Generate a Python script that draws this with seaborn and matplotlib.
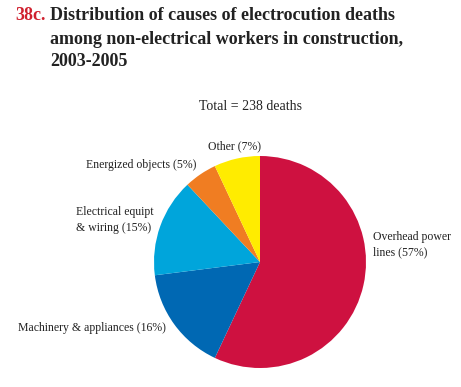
import matplotlib
matplotlib.use("Agg")
import matplotlib.pyplot as plt
import seaborn as sns

categories = ["Overhead power lines", "Machinery & appliances", "Electrical equipt & wiring",
              "Energized objects", "Other"]
percents = [57, 16, 15, 5, 7]
label_texts = ["Overhead power\nlines (57%)", "Machinery & appliances (16%)",
               "Electrical equipt\n& wiring (15%)", "Energized objects (5%)", "Other (7%)"]
colors = ["#CE1140", "#0068B3", "#00A5DB", "#F07D22", "#FFEC00"]
title_lines = ["Distribution of causes of electrocution deaths",
               "among non-electrical workers in construction,",
               "2003-2005"]
subtitle = "Total = 238 deaths"

sns.set_theme(style="white")
plt.rcParams['font.family'] = ['Liberation Serif', 'DejaVu Serif']

W, H = 461, 387
fig = plt.figure(figsize=(W / 100, H / 100), dpi=100)
ax = fig.add_axes([0, 0, 1, 1])

R = 106.0  # pixels per data unit (pie radius)
cx, cy = 260.0, 262.0  # pie centre in pixels from top-left

wedges, _ = ax.pie(percents, colors=colors, startangle=90, counterclock=False,
                   radius=1.0, wedgeprops=dict(linewidth=0))
ax.set_xlim(-cx / R, (W - cx) / R)
ax.set_ylim(-(H - cy) / R, cy / R)
ax.set_aspect('equal')
ax.axis('off')

def px(x, y):
    return (x - cx) / R, (cy - y) / R

fs = 8.5
# label placements (pixel positions)
placements = {
    0: (373, 245, 'left'),
    1: (18, 328, 'left'),
    2: (76, 220, 'left'),
    3: (196, 165, 'right'),
    4: (234.5, 146, 'center'),
}
for i, (x, y, ha) in placements.items():
    dx, dy = px(x, y)
    ax.text(dx, dy, label_texts[i], ha=ha, va='center', fontsize=fs,
            color='#222222', linespacing=1.35)

tx, ty = px(250.5, 107)
ax.text(tx, ty, subtitle, ha='center', va='center', fontsize=10, color='#222222')

fig.text(15 / W, 1 - 15 / H, "38c.", color='#D0202E', fontsize=13, fontweight='bold',
         ha='left', va='center')
for k, line in enumerate(title_lines):
    yy = [15, 39, 62][k]
    fig.text(50 / W, 1 - yy / H, line, color='#222222', fontsize=13, fontweight='bold',
             ha='left', va='center')

fig.savefig("out.png", dpi=100, facecolor='white')
